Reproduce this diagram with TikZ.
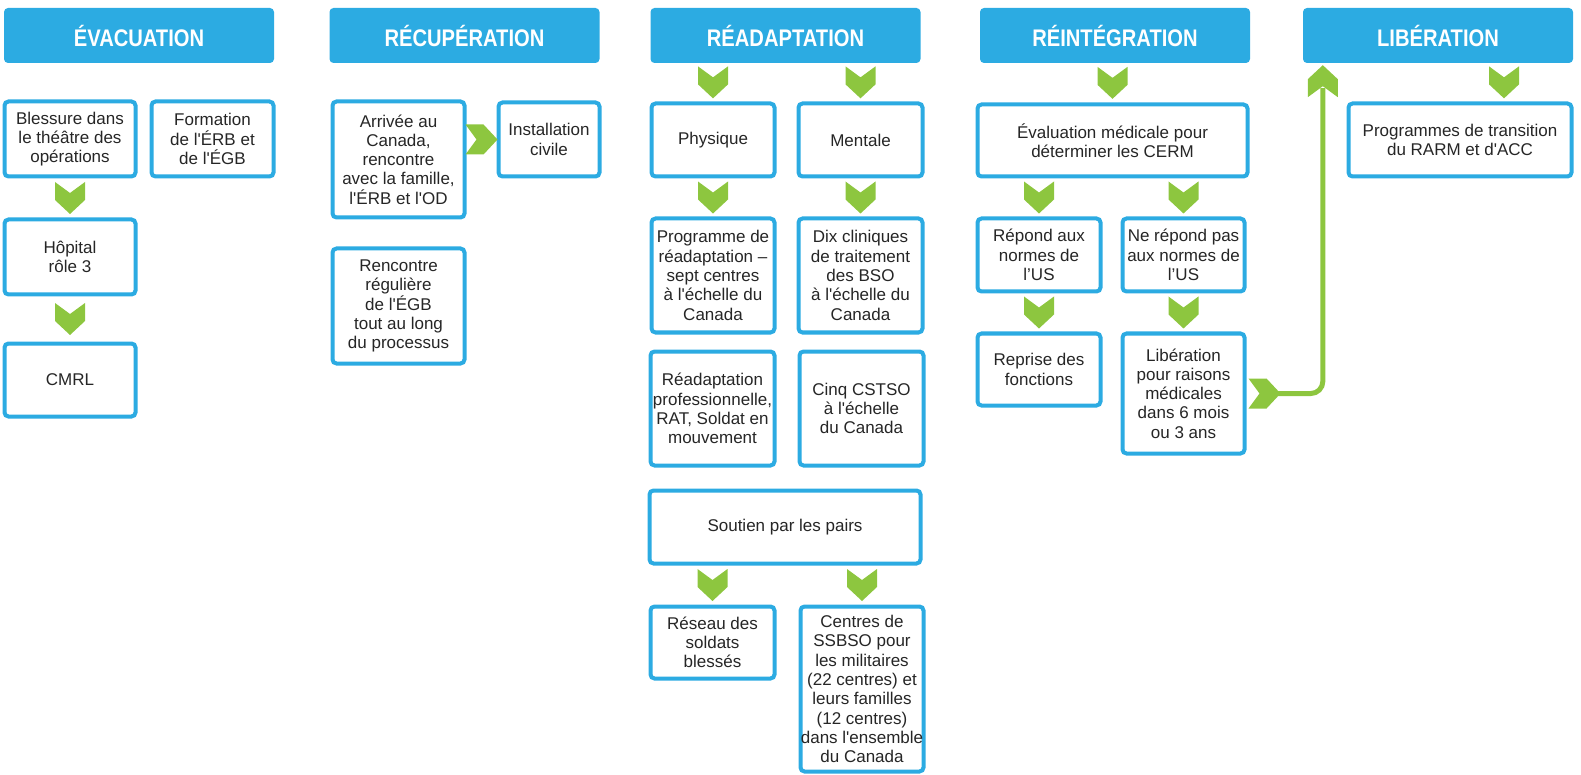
\documentclass[tikz,border=0pt]{standalone}
\usepackage{fontspec}
\setmainfont{Liberation Sans}
\newfontfamily\hdfont{Liberation Sans}[FakeStretch=0.84]
\usetikzlibrary{calc}
\definecolor{hdrblue}{HTML}{2CABE2}
\definecolor{chevgreen}{HTML}{8DC63F}
\definecolor{txtgray}{HTML}{262626}
\newcommand{\apo}{\textquotesingle}

\begin{document}
\begin{tikzpicture}[x=1pt,y=-1pt,
    hdr/.style={fill=hdrblue,rounded corners=4pt,minimum width=270,minimum height=55,inner sep=0,
      text=white,font=\hdfont\bfseries\fontsize{24}{28}\selectfont},
    box/.style={draw=hdrblue,line width=4pt,rounded corners=4pt,fill=white,align=center,inner sep=0,
      text=txtgray,font=\fontsize{17}{19.3}\selectfont},
    greenline/.style={draw=chevgreen,line width=5pt,rounded corners=12pt},
    chevdown/.pic={\fill[chevgreen] (-15,-16) -- (0,-5) -- (15,-16) -- (15,2) -- (0,16) -- (-15,2) -- cycle;},
    chevright/.pic={\fill[chevgreen] (-16,-15) -- (-5,0) -- (-16,15) -- (2,15) -- (16,0) -- (2,-15) -- cycle;},
    chevup/.pic={\fill[chevgreen] (0,-16) -- (15,-2) -- (15,16) -- (0,5) -- (-15,16) -- (-15,-2) -- cycle;}]
  \useasboundingbox (0,0) rectangle (1581,775);

  \node[hdr] (h1) at (139,35.5) {ÉVACUATION};
  \node[hdr] (h2) at (464.5,35.5) {RÉCUPÉRATION};
  \node[hdr] (h3) at (785.5,35.5) {RÉADAPTATION};
  \node[hdr] (h4) at (1115,35.5) {RÉINTÉGRATION};
  \node[hdr] (h5) at (1438,35.5) {LIBÉRATION};

  \node[box,minimum width=131,minimum height=75] (bless) at (70,139) {Blessure dans\\le théâtre des\\opérations};
  \node[box,minimum width=122,minimum height=75] (form) at (212.5,139) {Formation\\de l\apo ÉRB et\\de l\apo ÉGB};
  \node[box,minimum width=131,minimum height=75] (hop) at (70,257) {Hôpital\\rôle 3};
  \node[box,minimum width=131,minimum height=73] (cmrl) at (70,380) {CMRL};

  \node[box,minimum width=132,minimum height=116] (arriv) at (398.5,159.5) {Arrivée au\\Canada,\\rencontre\\avec la famille,\\l\apo ÉRB et l\apo OD};
  \node[box,minimum width=101,minimum height=74] (instal) at (549,139.5) {Installation\\civile};
  \node[box,minimum width=132,minimum height=115] (renc) at (398.5,306) {Rencontre\\régulière\\de l\apo ÉGB\\tout au long\\du processus};

  \node[box,minimum width=123,minimum height=73] (phys) at (713,140) {Physique};
  \node[box,minimum width=124,minimum height=73] (ment) at (860.5,140) {Mentale};
  \node[box,minimum width=123,minimum height=114] (prog) at (713,275.5) {Programme de\\réadaptation –\\sept centres\\à l\apo échelle du\\Canada};
  \node[box,minimum width=124,minimum height=114] (dix) at (860.5,275.5) {Dix cliniques\\de traitement\\des BSO\\à l\apo échelle du\\Canada};
  \node[box,minimum width=124,minimum height=114] (readp) at (712.5,408.5) {Réadaptation\\professionnelle,\\RAT, Soldat en\\mouvement};
  \node[box,minimum width=124,minimum height=114] (cinq) at (861.5,408.5) {Cinq CSTSO\\à l\apo échelle\\du Canada};
  \node[box,minimum width=271,minimum height=73] (sout) at (785,527) {Soutien par les pairs};
  \node[box,minimum width=124,minimum height=72] (reseau) at (712.5,642.5) {Réseau des\\soldats\\blessés};
  \node[box,minimum width=123,minimum height=165] (ctrs) at (862,689) {Centres de\\SSBSO pour\\les militaires\\(22 centres) et\\leurs familles\\(12 centres)\\dans l\apo ensemble\\du Canada};

  \node[box,minimum width=270,minimum height=72] (eval) at (1112.5,140.5) {Évaluation médicale pour\\déterminer les CERM};
  \node[box,minimum width=123,minimum height=73] (rep) at (1039,255) {Répond aux\\normes de\\l’US};
  \node[box,minimum width=122,minimum height=73] (nrep) at (1183.5,255) {Ne répond pas\\aux normes de\\l’US};
  \node[box,minimum width=123,minimum height=72] (repr) at (1039,369.5) {Reprise des\\fonctions};
  \node[box,minimum width=122,minimum height=120] (libm) at (1183.5,393.5) {Libération\\pour raisons\\médicales\\dans 6 mois\\ou 3 ans};

  \node[box,minimum width=223,minimum height=73] (prog2) at (1460,140) {Programmes de transition\\du RARM et d\apo ACC};

  \foreach \a/\b in {bless/hop,hop/cmrl,h3/phys,h3/ment,phys/prog,ment/dix,sout/reseau,sout/ctrs,
                     h4/eval,eval/rep,eval/nrep,rep/repr,nrep/libm}
    \pic at ($(\b.north)!.5!(\b.north |- \a.south)$) {chevdown};
  \pic at ($(prog2.north)!.5!(prog2.north |- h5.south)+(44,0)$) {chevdown};
  \pic at ($(instal.west)!.5!(instal.west -| arriv.east)$) {chevright};

  \pic at ($(libm.east)+(18,0)$) {chevright};
  \draw[greenline] ($(libm.east)+(30,0)$) -| ($(h5.south west)+(20,25)$);
  \pic at ($(h5.south west)+(20,18)$) {chevup};
\end{tikzpicture}
\end{document}
